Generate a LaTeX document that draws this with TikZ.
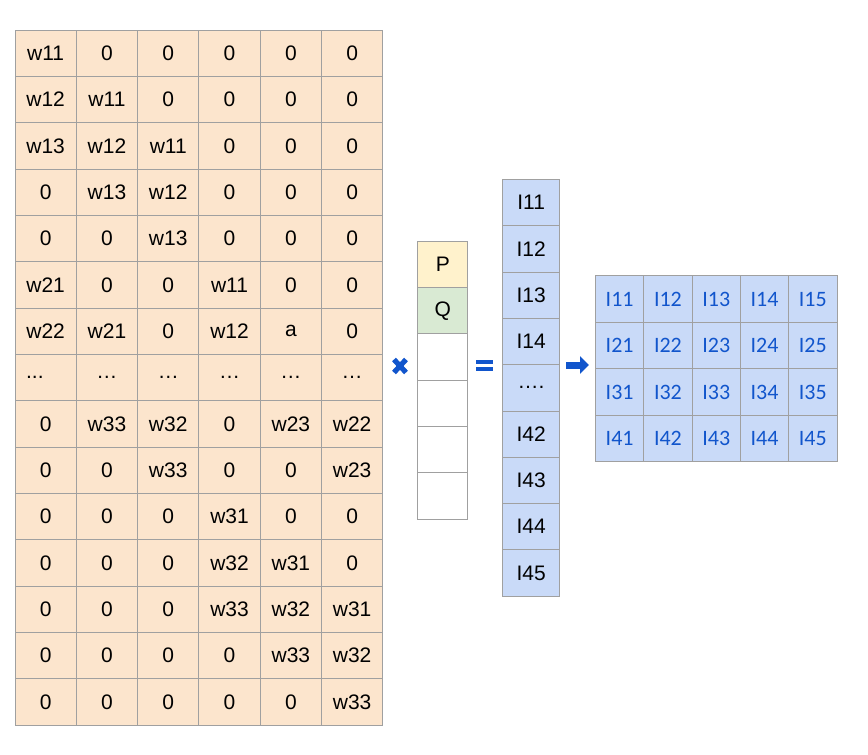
\documentclass[tikz,border=0pt]{standalone}
\usepackage{fontspec}
\setmainfont{Liberation Sans}
\newfontfamily\carlitofont{Carlito}
\usetikzlibrary{arrows.meta}
\definecolor{peach}{HTML}{FCE5CD}
\definecolor{pyellow}{HTML}{FFF2CC}
\definecolor{pgreen}{HTML}{D9EAD3}
\definecolor{pblue}{HTML}{C9DAF8}
\definecolor{gridgray}{HTML}{A0A0A0}
\definecolor{opblue}{HTML}{1155CC}
\newcommand{\mythreedots}{\makebox[39pt][l]{.\kern0pt.\kern0pt.}}
\newcommand{\myfourdots}{….}
\begin{document}
\begin{tikzpicture}[x=1pt,y=-1pt,
  basecell/.style={draw=gridgray, line width=1pt, anchor=north west, inner sep=0pt, font=\fontsize{21}{24}\selectfont},
  mcell/.style={basecell, fill=peach, minimum width=61.3pt, minimum height=46.35pt},
  vcell/.style={basecell, minimum width=50pt, minimum height=46.3pt},
  icell/.style={basecell, fill=pblue, minimum width=56.7pt, minimum height=46.3pt},
  gcell/.style={basecell, fill=pblue, minimum width=48.3pt, minimum height=46.5pt, text=opblue, font=\carlitofont\fontsize{22}{24}\selectfont},
  opsym/.style={fill=opblue, draw=none}]
\useasboundingbox (0,0) rectangle (868,755);
% big matrix
\foreach \row [count=\r from 0] in {
  {w11,0,0,0,0,0},
  {w12,w11,0,0,0,0},
  {w13,w12,w11,0,0,0},
  {0,w13,w12,0,0,0},
  {0,0,w13,0,0,0},
  {w21,0,0,w11,0,0},
  {w22,w21,0,w12,a,0},
  {\mythreedots,…,…,…,…,…},
  {0,w33,w32,0,w23,w22},
  {0,0,w33,0,0,w23},
  {0,0,0,w31,0,0},
  {0,0,0,w32,w31,0},
  {0,0,0,w33,w32,w31},
  {0,0,0,0,w33,w32},
  {0,0,0,0,0,w33}} {
  \foreach \v [count=\c from 0] in \row {
    \node[mcell] (m-\r-\c) at ({14.5+61.3*\c},{29.5+46.35*\r}) {\v};
  }
}
% vector
\node[vcell, fill=pyellow] (v-0) at (417.3,240.7) {P};
\node[vcell, fill=pgreen] (v-1) at (417.3,287.0) {Q};
\foreach \k in {2,3,4,5} {
  \node[vcell, fill=white] (v-\k) at ({417.3},{240.7+46.3*\k}) {};
}
% result column
\foreach \v [count=\k from 0] in {I11,I12,I13,I14,\myfourdots,I42,I43,I44,I45} {
  \node[icell] (i-\k) at ({502.3},{179+46.3*\k}) {\v};
}
% result grid
\foreach \row [count=\r from 1] in {{11,12,13,14,15},{21,22,23,24,25},{31,32,33,34,35},{41,42,43,44,45}} {
  \foreach \v [count=\c from 0] in \row {
    \node[gcell] (g-\r-\c) at ({595+48.3*\c},{275.3+46.5*(\r-1)}) {I\v};
  }
}
% multiplication sign
\coordinate (xc) at (400,366);
\draw[opblue, line width=5.2pt] ([shift={(-6,-6.5)}]xc) -- ([shift={(6,6.5)}]xc)
  ([shift={(-6,6.5)}]xc) -- ([shift={(6,-6.5)}]xc);
% equals sign
\coordinate (eq) at (484.5,365.5);
\fill[opsym] ([shift={(-8.5,-5.5)}]eq) rectangle ([shift={(8.5,-1.5)}]eq);
\fill[opsym] ([shift={(-8.5,1.5)}]eq) rectangle ([shift={(8.5,5.5)}]eq);
% arrow
\coordinate (a0) at (566,365);
\coordinate (a1) at (589,365);
\draw[opblue, line width=7pt, -{Triangle[length=9pt,width=17pt]}] (a0) -- (a1);
\end{tikzpicture}
\end{document}
